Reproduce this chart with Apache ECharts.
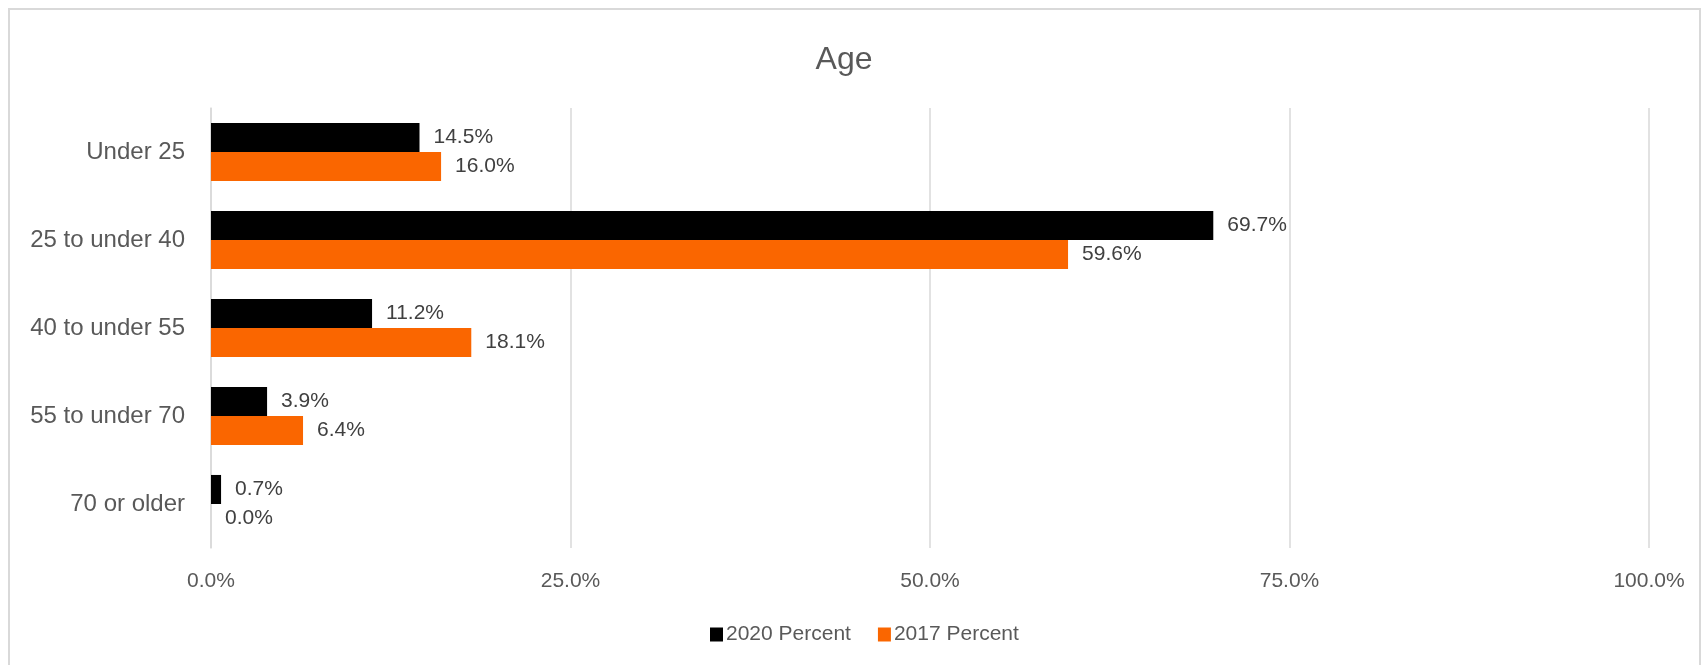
<!DOCTYPE html>
<html>
<head>
<meta charset="utf-8">
<title>Age</title>
<script src="https://cdn.jsdelivr.net/npm/echarts@6/dist/echarts.min.js"></script>
<style>
    html, body { margin: 0; padding: 0; background: #fff; }
    #chart { width: 1707px; height: 665px; }
</style>
</head>
<body>
<div id="chart"></div>
<script>
// 数据
var categories = ['Under 25', '25 to under 40', '40 to under 55', '55 to under 70', '70 or older'];
var percent2020 = [14.5, 69.7, 11.2, 3.9, 0.7];
var percent2017 = [16.0, 59.6, 18.1, 6.4, 0.0];
var seriesNames = ['2020 Percent', '2017 Percent'];
var axisTicks = [0, 25, 50, 75, 100];

var fontName = '"Liberation Sans", Arial, sans-serif';

function pct(v) {
    return Number(v).toFixed(1) + '%';
}

//柱子样式
function makeSeries(name, data, color) {
    return {
        name: name,
        type: 'bar',
        data: data,
        barGap: '0%',
        barCategoryGap: '34%',
        itemStyle: { color: color },
        label: {
            show: true,
            position: 'right',
            distance: 14,
            color: '#404040',
            fontFamily: fontName,
            fontSize: 21,
            formatter: function(p) { return pct(p.value); }
        }
    };
}

var myChart = echarts.init(document.getElementById('chart'));

var option = {
    backgroundColor: '#fff',
    animation: false,
    title: {
        text: 'Age',
        left: 839,
        top: 39,
        textAlign: 'center',
        textStyle: { color: '#595959', fontFamily: fontName, fontSize: 32, fontWeight: 'normal' }
    },
    legend: {
        data: seriesNames,
        left: 705,
        top: 619,
        itemWidth: 13,
        itemHeight: 14,
        itemGap: 27,
        icon: 'rect',
        textStyle: { color: '#595959', fontFamily: fontName, fontSize: 21, padding: [0, 0, 0, -2] }
    },
    grid: { left: 211, right: 58, top: 108, bottom: 117, containLabel: false },
    xAxis: {
        type: 'value',
        min: axisTicks[0],
        max: axisTicks[axisTicks.length - 1],
        interval: axisTicks[1] - axisTicks[0],
        axisLine: { show: false },
        axisTick: { show: false },
        splitLine: { show: true, lineStyle: { color: '#d9d9d9', width: 1.5 } },
        axisLabel: {
            margin: 23,
            color: '#595959',
            fontFamily: fontName,
            fontSize: 21,
            formatter: function(v) { return pct(v); }
        }
    },
    yAxis: {
        type: 'category',
        data: categories,
        inverse: true,
        axisLine: { show: true, lineStyle: { color: '#d9d9d9', width: 1.5 } },
        axisTick: { show: false },
        axisLabel: { margin: 26, color: '#595959', fontFamily: fontName, fontSize: 24 }
    },
    //外边框
    graphic: [{
        type: 'rect',
        silent: true,
        shape: { x: 9, y: 9, width: 1691, height: 700 },
        style: { fill: 'none', stroke: '#d9d9d9', lineWidth: 2 }
    }],
    series: [
        makeSeries(seriesNames[0], percent2020, '#000000'),
        makeSeries(seriesNames[1], percent2017, '#fa6600')
    ]
};

myChart.setOption(option, true);
</script>
</body>
</html>
